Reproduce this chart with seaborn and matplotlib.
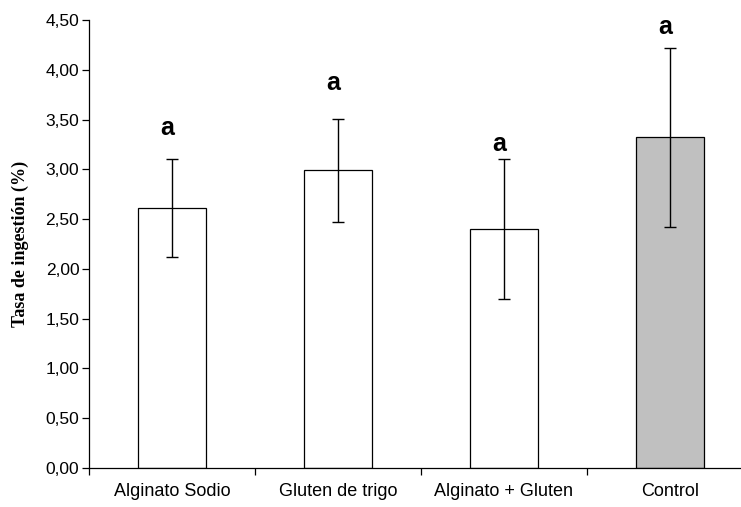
import matplotlib
matplotlib.use("Agg")
import matplotlib.pyplot as plt
import seaborn as sns
import numpy as np
from matplotlib.ticker import FixedLocator, NullFormatter, FixedFormatter

categories = ["Alginato Sodio", "Gluten de trigo", "Alginato + Gluten", "Control"]
means = [2.61, 2.99, 2.40, 3.32]
errors = [0.49, 0.52, 0.70, 0.90]
letters = ["a", "a", "a", "a"]
letter_y = [3.42, 3.87, 3.25, 4.43]
colors = ["#ffffff", "#ffffff", "#ffffff", "#c0c0c0"]
yticks = [0.0, 0.5, 1.0, 1.5, 2.0, 2.5, 3.0, 3.5, 4.0, 4.5]
ytick_labels = ["0,00", "0,50", "1,00", "1,50", "2,00", "2,50", "3,00", "3,50", "4,00", "4,50"]

sns.set_style("white")
plt.rcParams["font.family"] = ["Liberation Sans", "DejaVu Sans"]
plt.rcParams["text.color"] = "black"
plt.rcParams["axes.labelcolor"] = "black"
plt.rcParams["xtick.color"] = "black"
plt.rcParams["ytick.color"] = "black"

fig = plt.figure(figsize=(7.41, 5.07), dpi=100)
ax = fig.add_axes([89/741, 39/507, 664/741, 448/507])

sns.barplot(x=categories, y=means, hue=categories, palette=colors, legend=False,
            width=0.41, edgecolor="black", linewidth=0.9, ax=ax, errorbar=None)
ax.errorbar(x=np.arange(len(categories)), y=means, yerr=errors, fmt="none",
            ecolor="black", elinewidth=1.0, capsize=4, capthick=1.0)

for i, (t, yy) in enumerate(zip(letters, letter_y)):
    ax.text(i - 0.03, yy, t, ha="center", va="center", fontsize=18,
            fontweight="bold", color="black", family=["Liberation Sans"])

ax.set_ylim(0, 4.5)
ax.set_xlim(-0.5, 3.5)
ax.set_yticks(yticks)
ax.set_yticklabels(ytick_labels, fontsize=12.5)
ax.xaxis.set_major_locator(FixedLocator([-0.5, 0.5, 1.5, 2.5]))
ax.xaxis.set_major_formatter(NullFormatter())
ax.xaxis.set_minor_locator(FixedLocator([0, 1, 2, 3]))
ax.xaxis.set_minor_formatter(FixedFormatter(categories))
ax.tick_params(axis="x", which="minor", bottom=True, length=0, labelsize=13, pad=11,
               labelcolor="black")
ax.tick_params(axis="x", which="major", bottom=True, length=5, width=0.9,
               direction="out", color="black")
ax.tick_params(axis="y", left=True, length=5, width=0.9, direction="out",
               color="black", labelcolor="black", pad=2)
ax.set_xlabel("")
ax.set_ylabel("Tasa de ingestión (%)", fontsize=13, fontweight="bold", color="black",
              family=["Liberation Serif"], labelpad=12)

for s in ["top", "right"]:
    ax.spines[s].set_visible(False)
for s in ["left", "bottom"]:
    ax.spines[s].set_color("black")
    ax.spines[s].set_linewidth(0.9)

fig.savefig("out.png", dpi=100)
